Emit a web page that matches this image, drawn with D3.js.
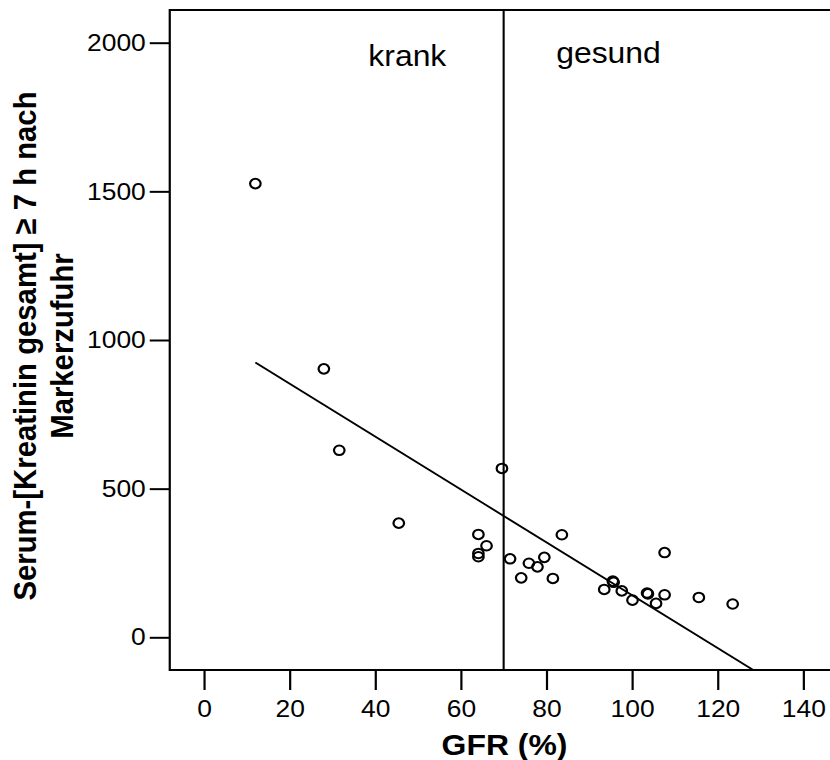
<!DOCTYPE html>
<html>
<head>
<meta charset="utf-8">
<script src="https://cdn.jsdelivr.net/npm/d3@7"></script>
<style>
  body { margin: 0; background: #fff; }
</style>
</head>
<body>
<div id="chart"></div>
<script>
// data
var gfr = [12, 28, 31.6, 45.5, 64.1, 66, 64.1, 64.1, 69.6, 71.5, 74.1, 75.9, 77.9, 79.5,
           81.5, 83.6, 93.5, 95.5, 95.7, 97.6, 100.1, 103.5, 103.7, 105.6, 107.6, 107.6, 115.6, 123.5];
var serum = [1526, 903, 629, 384, 346, 308, 282, 271, 568, 264, 200, 249, 237, 269,
             198, 345, 161, 189, 185, 156, 125, 149, 146, 114, 143, 285, 134, 112];

// regression line end points
var fitGfr = [12, 128.3];
var fitSerum = [924, -110];

var cutoff = 70;
var groupLabels = [{ text: "krank", x: 47.5, y: 1923 }, { text: "gesund", x: 94.5, y: 1932 }];

var xTicks = [0, 20, 40, 60, 80, 100, 120, 140];
var yTicks = [0, 500, 1000, 1500, 2000];

var width = 830, height = 760;
var sx = 1.1; // the original is a bit stretched horizontally
var font = "'Liberation Sans', Arial, sans-serif";

var svg = d3.select("#chart").append("svg")
    .attr("width", width)
    .attr("height", height);

var g = svg.append("g")
    .attr("transform", "scale(" + sx + ",1)");

var x = d3.scaleLinear()
    .domain([0, 140])
    .range([204 / sx, 803.3 / sx]);

var y = d3.scaleLinear()
    .domain([0, 2000])
    .range([637.3, 42.7]);

var xMin = -8, xMax = 152, yMin = -110, yMax = 2110;

// frame
g.append("rect")
    .attr("x", x(xMin))
    .attr("y", y(yMax))
    .attr("width", x(xMax) - x(xMin))
    .attr("height", y(yMin) - y(yMax))
    .attr("fill", "none")
    .attr("stroke", "black")
    .attr("stroke-width", 2);

// axes
var yAxis = g.append("g")
    .attr("transform", "translate(" + x(xMin) + ",0)")
    .call(d3.axisLeft(y).tickValues(yTicks).tickSize(20 / sx).tickPadding(4 / sx).tickFormat(d3.format("d")));

var xAxis = g.append("g")
    .attr("transform", "translate(0," + y(yMin) + ")")
    .call(d3.axisBottom(x).tickValues(xTicks).tickSize(20).tickPadding(10).tickFormat(d3.format("d")));

[yAxis, xAxis].forEach(function(ax) {
    ax.select(".domain").remove();
    ax.attr("font-family", font).attr("font-size", 24);
    ax.selectAll(".tick line").attr("stroke-width", 2);
    ax.selectAll(".tick text").attr("fill", "black");
});

// cutoff line
g.append("line")
    .attr("x1", x(cutoff)).attr("x2", x(cutoff))
    .attr("y1", y(yMax)).attr("y2", y(yMin))
    .attr("stroke", "black")
    .attr("stroke-width", 1.9);

// regression line
g.append("line")
    .attr("x1", x(fitGfr[0])).attr("y1", y(fitSerum[0]))
    .attr("x2", x(fitGfr[1])).attr("y2", y(fitSerum[1]))
    .attr("stroke", "black")
    .attr("stroke-width", 1.8);

// points
g.selectAll("circle.pt")
    .data(gfr)
    .enter()
    .append("circle")
    .attr("class", "pt")
    .attr("cx", function(d) { return x(d); })
    .attr("cy", function(d, i) { return y(serum[i]); })
    .attr("r", 4.8)
    .attr("fill", "none")
    .attr("stroke", "black")
    .attr("stroke-width", 2);

// group labels
g.selectAll("text.grp")
    .data(groupLabels)
    .enter()
    .append("text")
    .attr("class", "grp")
    .attr("x", function(d) { return x(d.x); })
    .attr("y", function(d) { return y(d.y); })
    .attr("text-anchor", "middle")
    .attr("font-family", font)
    .attr("font-size", 29)
    .text(function(d) { return d.text; });

// axis titles
g.append("text")
    .attr("x", 504.5 / sx)
    .attr("y", 755)
    .attr("text-anchor", "middle")
    .attr("font-family", font)
    .attr("font-size", 29)
    .attr("font-weight", "bold")
    .text("GFR (%)");

var yTitle = ["Serum-[Kreatinin gesamt] \u2265 7 h nach", "Markerzufuhr"];
g.selectAll("text.ytitle")
    .data(yTitle)
    .enter()
    .append("text")
    .attr("class", "ytitle")
    .attr("transform", function(d, i) { return "translate(" + ((36 + i * 36.7) / sx) + ",346) rotate(-90)"; })
    .attr("text-anchor", "middle")
    .attr("font-family", font)
    .attr("font-size", 29.3)
    .attr("font-weight", "bold")
    .text(function(d) { return d; });
</script>
</body>
</html>
